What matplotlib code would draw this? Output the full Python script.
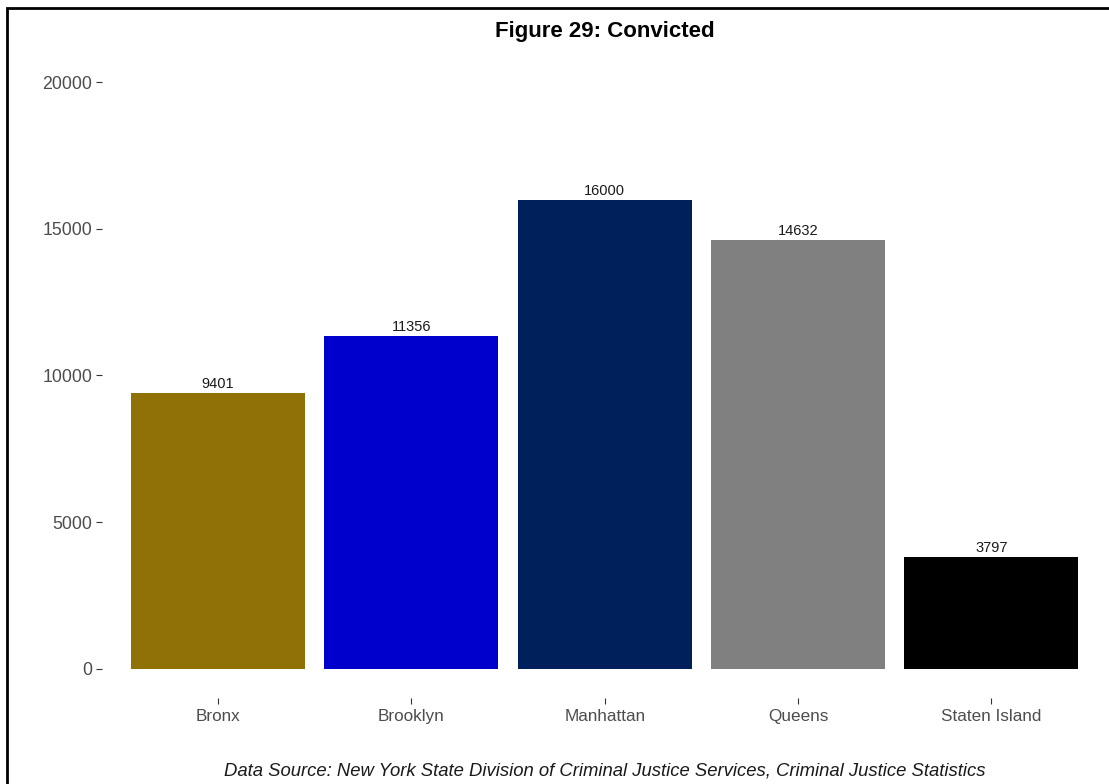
import matplotlib
matplotlib.use("Agg")
import matplotlib.pyplot as plt
from matplotlib.patches import Rectangle

plt.rcParams['font.family'] = ['Liberation Sans', 'DejaVu Sans']

boroughs = ["Bronx", "Brooklyn", "Manhattan", "Queens", "Staten Island"]
convicted = [9401, 11356, 16000, 14632, 3797]
colors = ["#8f7106", "#0000cd", "#00205b", "#808080", "#000000"]
yticks = [0, 5000, 10000, 15000, 20000]
title = "Figure 29: Convicted"
caption = "Data Source: New York State Division of Criminal Justice Services, Criminal Justice Statistics"

W, H = 1109, 784
fig = plt.figure(figsize=(W / 100, H / 100), dpi=100)
ax = fig.add_axes([102 / W, 1 - 698 / H, (1107.5 - 102) / W, (698 - 53) / H])

x = list(range(len(boroughs)))
ax.bar(x, convicted, width=0.9, color=colors)
for xi, v in zip(x, convicted):
    ax.annotate(str(v), (xi, v), xytext=(0, 1.5), textcoords="offset points",
                ha="center", va="bottom", fontsize=10.5, color="#1a1a1a")

ax.set_xlim(-0.6, len(boroughs) - 0.4)
ax.set_ylim(-1000, 21000)
ax.set_yticks(yticks)
ax.set_yticklabels([str(t) for t in yticks])
ax.set_xticks(x)
ax.set_xticklabels(boroughs)
for s in ax.spines.values():
    s.set_visible(False)
ax.tick_params(axis="both", colors="#333333", labelcolor="#4d4d4d", labelsize=12.3,
               length=4, width=0.8)
ax.tick_params(axis="y", pad=3, labelsize=12.8)
ax.tick_params(axis="x", pad=4)

fig.text(605 / W, 1 - 31 / H, title, ha="center", va="center", fontsize=16,
         fontweight="bold", color="black")
fig.text(605 / W, 1 - 771 / H, caption, ha="center", va="center", fontsize=13.3,
         style="italic", color="#1a1a1a")

fig.patches.append(Rectangle((7 / W, -0.1), 1.2, 1 - 8 / H + 0.1, transform=fig.transFigure,
                             fill=False, edgecolor="black", linewidth=2, clip_on=False))

fig.savefig("out.png", dpi=100)
